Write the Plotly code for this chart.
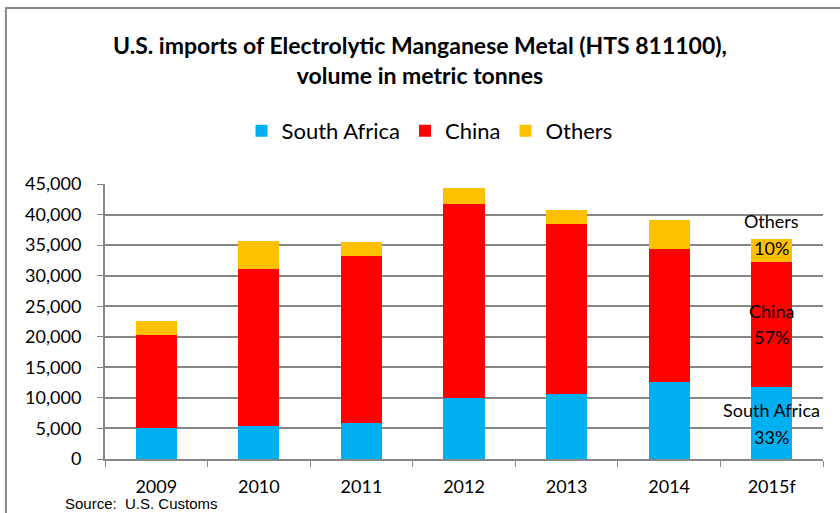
import plotly.graph_objects as go

years = ["2009", "2010", "2011", "2012", "2013", "2014", "2015f"]
south_africa = [5000, 5450, 5900, 9950, 10700, 12600, 11850]
china = [15250, 25600, 27250, 31850, 27800, 21700, 20450]
others = [2300, 4600, 2300, 2600, 2200, 4800, 3750]
y_ticks = [0, 5000, 10000, 15000, 20000, 25000, 30000, 35000, 40000, 45000]
share_labels = [("Others", 38950), ("10%", 34500), ("China", 24200), ("57%", 19950),
                ("South Africa", 8000), ("33%", 3600)]

FONT = "Lato"
fig = go.Figure()
for name, vals, col in [("South Africa", south_africa, "#00B0F0"),
                        ("China", china, "#FF0000"),
                        ("Others", others, "#FFC000")]:
    fig.add_trace(go.Bar(x=years, y=vals, name=name, marker=dict(color=col, line=dict(width=0))))

fig.update_layout(
    barmode="stack", bargap=0.6,
    width=840, height=513,
    margin=dict(l=105, r=17, t=184, b=54),
    paper_bgcolor="white", plot_bgcolor="white",
    font=dict(family=FONT, color="black"),
    title=dict(text="<b>U.S. imports of Electrolytic Manganese Metal (HTS 811100),<br>volume in metric tonnes</b>",
               x=0.5, xanchor="center", y=0.895, yanchor="top", font=dict(size=23, family=FONT)),
    legend=dict(orientation="h", x=0.452, xanchor="center", y=1.193, yanchor="middle",
                font=dict(size=22, family=FONT), itemwidth=30, traceorder="normal"),
    showlegend=True,
)
fig.update_xaxes(type="category", tickson="boundaries", ticks="outside", ticklen=6, tickcolor="#868686",
                 showline=True, linecolor="#868686", linewidth=2, tickfont=dict(size=18), showgrid=False,
                 ticklabelstandoff=10)
fig.update_yaxes(range=[0, 45000], tickvals=y_ticks, tickformat=",", ticks="outside", ticklen=6,
                 tickcolor="#868686", showline=True, linecolor="#868686", linewidth=2,
                 gridcolor="#868686", gridwidth=1.5, tickfont=dict(size=18), zeroline=False,
                 ticklabelstandoff=12)

for txt, yv in share_labels:
    fig.add_annotation(x="2015f", y=yv, text=txt, showarrow=False, font=dict(size=18, family=FONT),
                       xanchor="center", yanchor="middle")

fig.add_annotation(xref="paper", yref="paper", x=-0.058, y=-0.163, xanchor="left", yanchor="middle",
                   text="Source:  U.S. Customs", showarrow=False,
                   font=dict(size=15, family="Liberation Sans"))

fig.add_shape(type="rect", xref="paper", yref="paper", x0=-0.138, x1=1.1, y0=-0.4, y1=1.64,
              line=dict(color="#868686", width=2), fillcolor="rgba(0,0,0,0)", layer="above")

fig.write_html("out.html")
